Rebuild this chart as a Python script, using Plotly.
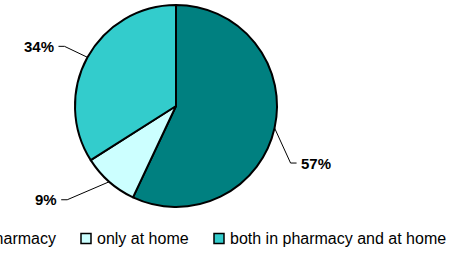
import math
import plotly.graph_objects as go

labels = ["only in pharmacy", "only at home", "both in pharmacy and at home"]
values = [57, 9, 34]
colors = ["#008080", "#CCFFFF", "#33CCCC"]
pct_text = ["57%", "9%", "34%"]

W, H = 468, 254
# pie placement (pixels)
CX, CY, R = 176, 106, 101
# label leader styling: elbow offset from slice edge (px), side, horizontal stub length
elbow = [(16, 35, 1, 6), (-42, 18, -1, 6), (-23, -11, -1, 6)]
# legend layout (pixels): box left positions, box size, vertical centre
leg_box_x = [-81, 81, 214]
LEG_Y, BOX = 238.5, 10
FONT = "Arial, Liberation Sans"

def px(x):
    return x / W

def py(y):
    return 1 - y / H

fig = go.Figure(go.Pie(
    labels=labels, values=values, sort=False, direction="clockwise", rotation=0,
    marker=dict(colors=colors, line=dict(color="black", width=2)),
    textinfo="none", hoverinfo="label+percent", showlegend=False,
    domain=dict(x=[px(CX - R), px(CX + R)], y=[py(CY + R), py(CY - R)]),
))

total = sum(values)
cum = 0
shapes, annots = [], []
for v, t, (dx, dy, side, stub) in zip(values, pct_text, elbow):
    mid = (cum + v / 2) / total * 2 * math.pi
    cum += v
    ex = CX + R * math.sin(mid)
    ey = CY - R * math.cos(mid)
    bx, by = ex + dx, ey + dy
    sx = bx + side * stub
    shapes.append(dict(type="path", xref="paper", yref="paper",
                       path=f"M {px(ex)},{py(ey)} L {px(bx)},{py(by)} L {px(sx)},{py(by)}",
                       line=dict(color="black", width=1)))
    annots.append(dict(x=px(sx + side * 2), y=py(by), xref="paper", yref="paper",
                       text=f"<b>{t}</b>", showarrow=False,
                       xanchor="left" if side > 0 else "right", yanchor="middle",
                       font=dict(family=FONT, size=15, color="black")))

# legend
for lab, col, bx0 in zip(labels, colors, leg_box_x):
    shapes.append(dict(type="rect", xref="paper", yref="paper",
                       x0=px(bx0), x1=px(bx0 + BOX), y0=py(LEG_Y + BOX / 2), y1=py(LEG_Y - BOX / 2),
                       fillcolor=col, line=dict(color="black", width=1.5)))
    annots.append(dict(x=px(bx0 + BOX + 4), y=py(LEG_Y), xref="paper", yref="paper",
                       text=lab, showarrow=False, xanchor="left", yanchor="middle",
                       font=dict(family=FONT, size=16, color="black")))

fig.update_layout(
    width=W, height=H, margin=dict(l=0, r=0, t=0, b=0, autoexpand=False),
    paper_bgcolor="white", plot_bgcolor="white",
    shapes=shapes, annotations=annots, showlegend=False,
)

fig.write_html("out.html", config={"displayModeBar": False},
               post_script="document.body.style.margin='0';")
